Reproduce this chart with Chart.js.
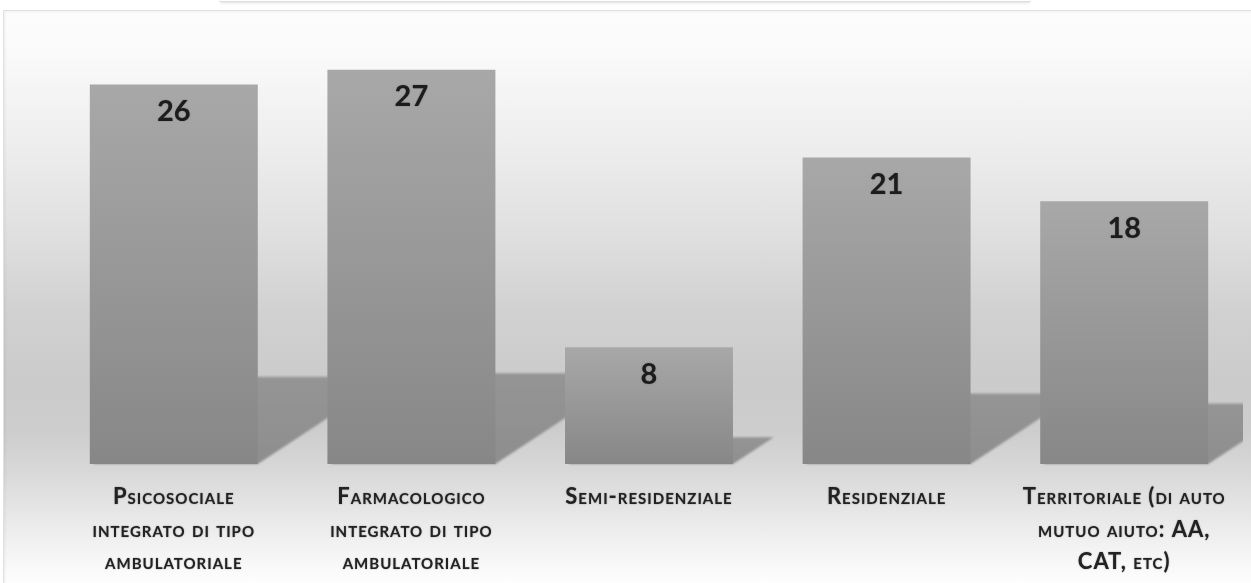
<!DOCTYPE html>
<html>
<head>
<meta charset="utf-8">
<script src="https://cdn.jsdelivr.net/npm/chart.js@4/dist/chart.umd.min.js"></script>
<style>
  html, body { margin: 0; padding: 0; background: #ffffff; overflow: hidden; }
  #wrap { position: relative; width: 1251px; height: 583px; }
  #topline {
    position: absolute; left: 220px; top: -4px; width: 810px; height: 5px;
    background: #ffffff; border-bottom: 1px solid #dedede;
    box-shadow: 0 1px 3px rgba(0,0,0,0.12);
  }
  #frame {
    position: absolute; left: 3px; top: 10px; width: 1260px; height: 590px;
    border: 1px solid #e0e0e0;
    box-shadow: inset 1px 1px 3px rgba(0,0,0,0.06);
    background: linear-gradient(to bottom,
      #fdfdfd 0px, #fafafa 40px, #eeeeee 130px, #e0e0e0 220px,
      #d1d1d1 300px, #cbcbcb 370px, #cdcdcd 420px, #d8d8d8 460px,
      #e6e6e6 500px, #f4f4f4 540px, #fefefe 573px);
  }
  canvas { position: absolute; left: 0; top: 0; }
</style>
</head>
<body>
<div id="wrap">
  <div id="topline"></div>
  <div id="frame"></div>
  <canvas id="chart" width="1251" height="583"></canvas>
</div>
<script>
// Treatment types and the number of answers for each
const categories = [
  ["Psicosociale", "integrato di tipo", "ambulatoriale"],
  ["Farmacologico", "integrato di tipo", "ambulatoriale"],
  ["Semi-residenziale"],
  ["Residenziale"],
  ["Territoriale (di auto", "mutuo aiuto: AA,", "CAT, etc)"]
];
const counts = [26, 27, 8, 21, 18];
const yMax = 30;

// Spaced, softly haloed lettering for the category names (axes draw before the bars)
const labelStyle = {
  id: 'labelStyle',
  beforeDraw(chart) {
    const ctx = chart.ctx;
    ctx.letterSpacing = '1px';
    ctx.shadowColor = 'rgba(0,0,0,0.45)';
    ctx.shadowBlur = 1.5;
  },
  beforeDatasetsDraw(chart) {
    const ctx = chart.ctx;
    ctx.letterSpacing = '0px';
    ctx.shadowColor = 'rgba(0,0,0,0)';
    ctx.shadowBlur = 0;
  }
};

// Soft floor shadow cast to the right of every bar
const floorShadow = {
  id: 'floorShadow',
  beforeDatasetsDraw(chart) {
    const { ctx, chartArea } = chart;
    const meta = chart.getDatasetMeta(0);
    ctx.save();
    ctx.beginPath();
    ctx.rect(chartArea.left, chartArea.top, chartArea.right - chartArea.left, chartArea.bottom - chartArea.top + 2);
    ctx.clip();
    ctx.filter = 'blur(1px)';
    meta.data.forEach(bar => {
      const half = bar.width / 2;
      const left = bar.x - half, right = bar.x + half;
      const h = bar.base - bar.y;
      const sh = h * 0.23;
      const g = ctx.createLinearGradient(0, bar.base - sh, 0, bar.base);
      g.addColorStop(0, '#959595');
      g.addColorStop(1, '#8e8e8e');
      ctx.fillStyle = g;
      ctx.beginPath();
      ctx.moveTo(left + 4, bar.base);
      ctx.lineTo(right, bar.base);
      ctx.lineTo(right + sh * 1.52, bar.base - sh);
      ctx.lineTo(left + 4, bar.base - sh);
      ctx.closePath();
      ctx.fill();
    });
    ctx.restore();
  }
};

// Count printed inside the top of each bar
const valueLabels = {
  id: 'valueLabels',
  afterDatasetsDraw(chart) {
    const { ctx } = chart;
    const meta = chart.getDatasetMeta(0);
    ctx.save();
    ctx.letterSpacing = '0px';
    ctx.font = 'bold 29px Lato, "Open Sans", sans-serif';
    ctx.fillStyle = '#1c1c1c';
    ctx.shadowColor = 'rgba(0,0,0,0.35)';
    ctx.shadowBlur = 1.5;
    ctx.textAlign = 'center';
    ctx.textBaseline = 'middle';
    meta.data.forEach((bar, i) => {
      ctx.fillText(String(counts[i]), bar.x, bar.y + 27);
    });
    ctx.restore();
  }
};

function barGradient(context) {
  const chart = context.chart;
  const y = chart.scales && chart.scales.y;
  if (!y || context.dataIndex === undefined) return '#999999';
  const top = y.getPixelForValue(counts[context.dataIndex]);
  const base = y.getPixelForValue(0);
  if (!isFinite(top) || !isFinite(base) || top === base) return '#999999';
  const g = chart.ctx.createLinearGradient(0, top, 0, base);
  g.addColorStop(0, '#a8a8a8');
  g.addColorStop(1, '#878787');
  return g;
}

new Chart(document.getElementById('chart'), {
  type: 'bar',
  data: {
    labels: categories,
    datasets: [{
      data: counts,
      backgroundColor: barGradient,
      borderWidth: 0,
      barPercentage: 0.707,
      categoryPercentage: 1.0
    }]
  },
  options: {
    responsive: false,
    animation: false,
    layout: { padding: { left: 55, right: 8, top: 26, bottom: 0 } },
    plugins: { legend: { display: false }, tooltip: { enabled: false } },
    scales: {
      x: {
        grid: { display: false, drawTicks: false },
        border: { display: false },
        afterFit: s => { s.height = 119; },
        ticks: {
          padding: 17,
          maxRotation: 0,
          autoSkip: false,
          color: '#222222',
          font: { family: 'Lato, "Open Sans", sans-serif', size: 22, weight: 'small-caps bold', lineHeight: 1.477 }
        }
      },
      y: {
        display: false,
        min: 0,
        max: yMax
      }
    }
  },
  plugins: [labelStyle, floorShadow, valueLabels]
});
</script>
</body>
</html>
